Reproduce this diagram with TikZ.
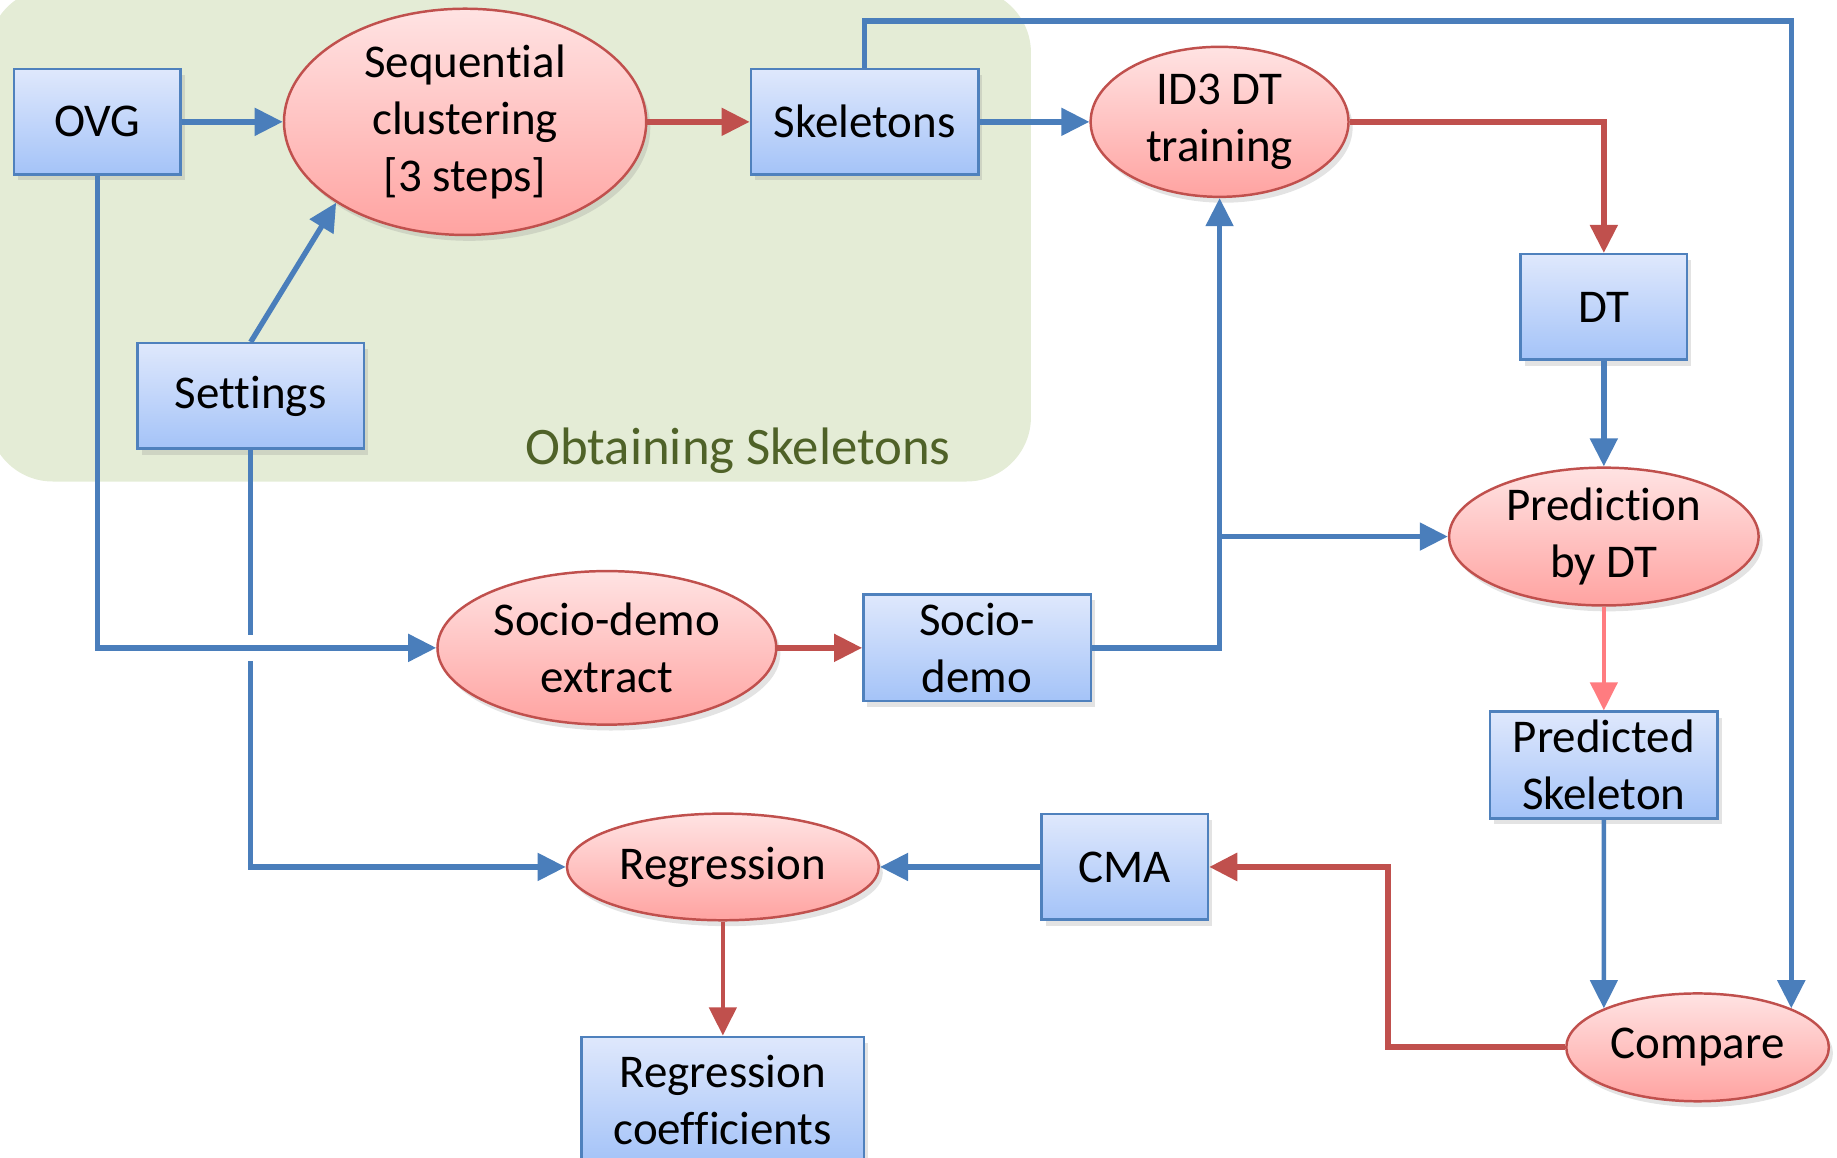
\documentclass[tikz,border=0pt]{standalone}
\usepackage{fontspec}
\setmainfont{Carlito}[Ligatures=NoCommon]
\usetikzlibrary{arrows.meta,positioning,shapes.geometric,shadows}
\definecolor{lineblue}{HTML}{4A7EBB}
\definecolor{linered}{HTML}{C0504D}
\definecolor{linepink}{HTML}{FF7C80}
\definecolor{boxtop}{HTML}{DFE8FC}
\definecolor{boxbot}{HTML}{A4C3F8}
\definecolor{boxline}{HTML}{4F81BD}
\definecolor{elltop}{HTML}{FFE3E3}
\definecolor{ellbot}{HTML}{FFA3A1}
\definecolor{areagreen}{HTML}{E4ECD6}
\definecolor{areatext}{HTML}{4F6228}

\begin{document}
\begin{tikzpicture}[x=0.01cm,y=-0.01cm,
  font=\fontsize{11.4}{13.9}\selectfont,
  softshadow/.style={drop shadow={opacity=0.22,shadow xshift=0.35mm,shadow yshift=-0.5mm}},
  databox/.style={rectangle,draw=boxline,line width=0.6pt,top color=boxtop,bottom color=boxbot,
    align=center,inner sep=0pt,softshadow},
  procell/.style={ellipse,draw=linered,line width=0.6pt,top color=elltop,bottom color=ellbot,
    align=center,inner sep=0pt,softshadow},
  bluearrow/.style={draw=lineblue,line width=1.3pt,-{Triangle[length=2.4mm,width=2.3mm]}},
  redarrow/.style={draw=linered,line width=1.3pt,-{Triangle[length=2.4mm,width=2.3mm]}}]
\useasboundingbox (0,0) rectangle (1568,988);

% area of the first stage
\fill[areagreen,rounded corners=0.55cm] (-10,-10) rectangle (880,411);
\node[text=areatext,font=\fontsize{12.8}{15}\selectfont] (areaname) at (630,385) {Obtaining Skeletons};

% data and processes
\node[databox,minimum width=1.42cm,minimum height=0.90cm] (ovg) at (83,104) {OVG};
\node[procell,minimum width=3.09cm,minimum height=1.93cm] (seq) at (397,104) {Sequential\\clustering\\{[3 steps]}};
\node[databox,minimum width=1.94cm,minimum height=0.90cm] (skel) at (738,104) {Skeletons};
\node[procell,minimum width=2.20cm,minimum height=1.28cm] (id3) at (1041,104) {ID3 DT\\training};
\node[databox,minimum width=1.93cm,minimum height=0.90cm] (set) at (214,338) {Settings};
\node[databox,minimum width=1.42cm,minimum height=0.90cm] (dt) at (1369,262) {DT};
\node[procell,minimum width=2.64cm,minimum height=1.14cm] (pred) at (1369,458) {Prediction\\by DT};
\node[procell,minimum width=2.89cm,minimum height=1.31cm] (sdx) at (518,553) {Socio-demo\\extract};
\node[databox,minimum width=1.94cm,minimum height=0.91cm] (sdb) at (834,553) {Socio-\\demo};
\node[databox,minimum width=1.94cm,minimum height=0.91cm] (psk) at (1369,653) {Predicted\\Skeleton};
\node[procell,minimum width=2.66cm,minimum height=0.91cm] (reg) at (617,740) {Regression};
\node[databox,minimum width=1.42cm,minimum height=0.90cm] (cma) at (960,740) {CMA};
\node[databox,minimum width=2.41cm,minimum height=1.08cm] (coef) at (617,939) {Regression\\coefficients};
\node[procell,minimum width=2.24cm,minimum height=0.92cm] (cmp) at (1449,894) {Compare};

\coordinate (topright) at (cmp.north east |- 0,18);
\coordinate (cmabend) at (1185,894);
\coordinate (branch) at (id3.south |- pred.west);

% connectors
\draw[bluearrow] (ovg.east) -- (seq.west);
\draw[bluearrow] (set.north) -- (seq.south west);
\draw[redarrow] (seq.east) -- (skel.west);
\draw[bluearrow] (skel.east) -- (id3.west);
\draw[bluearrow] (skel.north) |- (topright) -- (cmp.north east);
\draw[redarrow] (id3.east) -| (dt.north);
\draw[bluearrow] (dt.south) -- (pred.north);
\draw[draw=linepink,line width=1.1pt,-{Triangle[length=2.4mm,width=2.3mm]}] (pred.south) -- (psk.north);
\draw[bluearrow,line width=1.1pt] (psk.south) -- (cmp.north west);
\draw[bluearrow] (set.south) |- (reg.west);
\coordinate (gap) at (set.south |- sdx.west);
\fill[white] ([xshift=-0.07cm,yshift=-0.11cm]gap) rectangle ([xshift=0.07cm,yshift=0.11cm]gap);
\draw[bluearrow] (ovg.south) |- (sdx.west);
\draw[redarrow] (sdx.east) -- (sdb.west);
\draw[bluearrow] (sdb.east) -| (id3.south);
\draw[bluearrow] (branch) -- (pred.west);
\draw[bluearrow] (cma.west) -- (reg.east);
\draw[redarrow,line width=1.5pt] (cmp.west) -- (cmabend) |- (cma.east);
\draw[redarrow,line width=1.1pt] (reg.south) -- (coef.north);
\end{tikzpicture}
\end{document}
